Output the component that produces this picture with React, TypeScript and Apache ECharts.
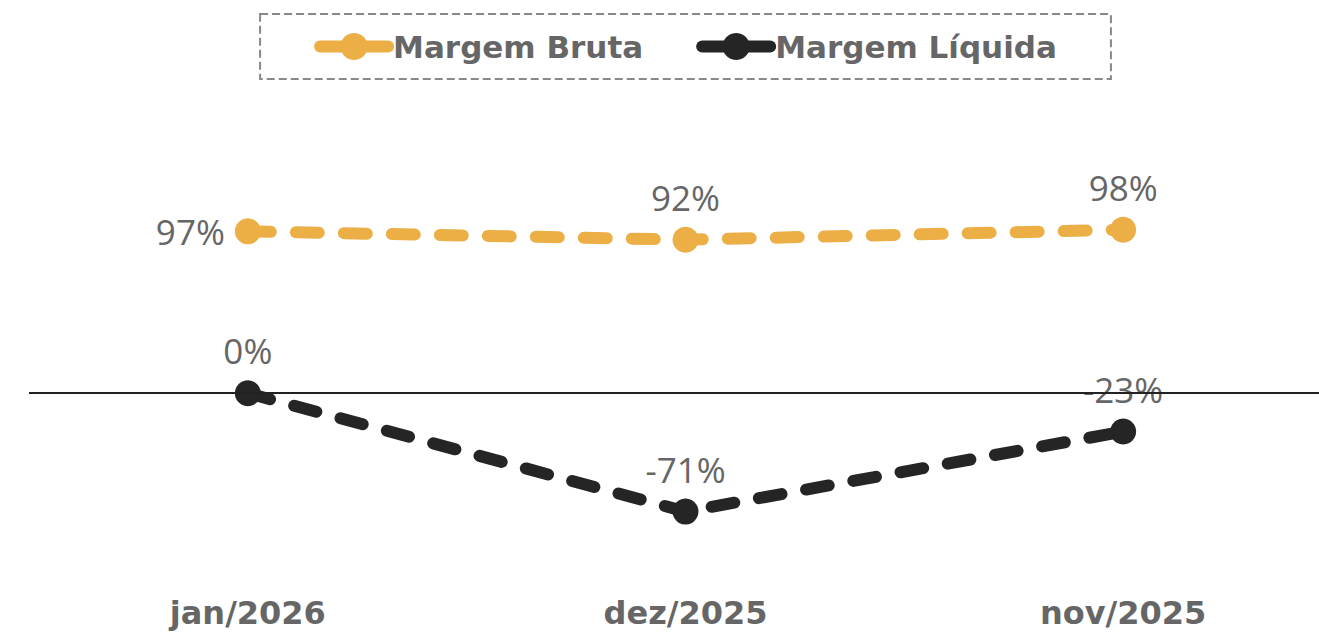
import React, { useEffect, useRef } from "react";
import * as echarts from "echarts";

const categories = ["jan/2026", "dez/2025", "nov/2025"];
const margemBruta = [97, 92, 98];
const margemLiquida = [0, -71, -23];
const seriesNames = ["Margem Bruta", "Margem Líquida"];
const brutaLabelPositions = ["left", "top", "top"];

const ORANGE = "#EBAF46";
const DARK = "#252525";
const TEXT = "#666666";

export default function App() {
  const ref = useRef<HTMLDivElement>(null);
  useEffect(() => {
    if (!ref.current) return;
    const chart = echarts.init(ref.current, undefined, { renderer: "svg" });
    const labelStyle = {
      show: true,
      fontSize: 35,
      fontFamily: "Open Sans",
      color: TEXT,
      formatter: (p: any) => `${p.value}%`,
    };
    chart.setOption({
      animation: false,
      backgroundColor: "#ffffff",
      legend: {
        top: 14,
        left: "center",
        orient: "horizontal",
        itemWidth: 68,
        itemHeight: 34,
        itemGap: 53,
        padding: [17, 54, 17, 54],
        borderColor: "#888888",
        borderWidth: 2,
        borderType: "dashed",
        textStyle: {
          fontFamily: "DejaVu Sans",
          fontWeight: "bold",
          fontSize: 31,
          color: TEXT,
        },
        lineStyle: { width: 12, type: "solid", cap: "round" },
        data: seriesNames,
      },
      grid: { left: 29, right: 29, top: 193, bottom: 74 },
      xAxis: {
        type: "category",
        data: categories,
        axisLine: { show: false },
        axisTick: { show: false },
        splitLine: { show: false },
        axisLabel: {
          margin: 37,
          fontFamily: "DejaVu Sans",
          fontWeight: "bold",
          fontSize: 32,
          color: TEXT,
        },
      },
      yAxis: {
        type: "value",
        min: -100,
        max: 120,
        show: false,
        splitLine: { show: false },
      },
      series: [
        {
          name: seriesNames[0],
          type: "line",
          data: margemBruta.map((v, i) => ({
            value: v,
            label: { position: brutaLabelPositions[i], distance: i === 0 ? 10 : 12 },
          })),
          symbol: "circle",
          symbolSize: 26,
          itemStyle: { color: ORANGE },
          lineStyle: { color: ORANGE, width: 12, type: [23, 25], cap: "round" },
          label: labelStyle,
          z: 3,
        },
        {
          name: seriesNames[1],
          type: "line",
          data: margemLiquida,
          symbol: "circle",
          symbolSize: 26,
          itemStyle: { color: DARK },
          lineStyle: { color: DARK, width: 12, type: [23, 25], cap: "round" },
          label: { ...labelStyle, position: "top", distance: 12 },
          z: 3,
          markLine: {
            silent: true,
            symbol: ["none", "none"],
            label: { show: false },
            lineStyle: { color: "#222222", width: 2, type: "solid" },
            data: [{ yAxis: 0 }],
            z: 4,
          },
        },
      ],
    });
    return () => chart.dispose();
  }, []);
  return (
    <div
      style={{
        position: "fixed",
        left: 0,
        top: 0,
        width: 1319,
        height: 634,
        overflow: "hidden",
        background: "#fff",
      }}
    >
      <div ref={ref} style={{ width: 1371, height: 634 }} />
    </div>
  );
}
